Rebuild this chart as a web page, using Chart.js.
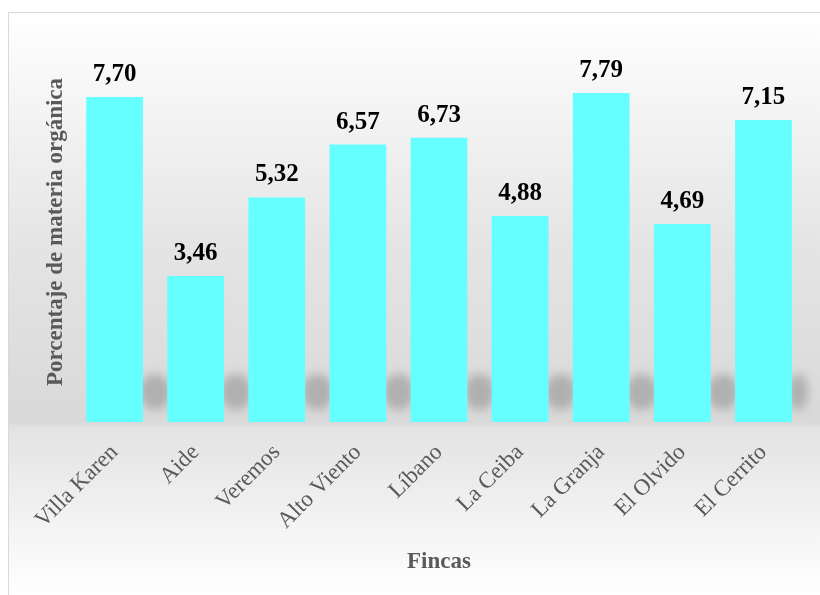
<!DOCTYPE html>
<html>
<head>
<meta charset="utf-8">
<script src="https://cdn.jsdelivr.net/npm/chart.js@4/dist/chart.umd.min.js"></script>
<style>
  html, body { margin: 0; padding: 0; background: #ffffff; }
  #chart { display: block; }
</style>
</head>
<body>
<canvas id="chart" width="820" height="595"></canvas>
<script>
const fincas = ["Villa Karen", "Aide", "Veremos", "Alto Viento", "Líbano", "La Ceiba", "La Granja", "El Olvido", "El Cerrito"];
const materiaOrganica = [7.70, 3.46, 5.32, 6.57, 6.73, 4.88, 7.79, 4.69, 7.15];
const yMin = 0;
const yMax = 9;

const serif = '"Liberation Serif", "Times New Roman", serif';
const grey = "#595959";

// panel background: framed box with a vertical grey fade
const panelBackground = {
  id: "panelBackground",
  beforeDraw(chart) {
    const { ctx, width, height, chartArea } = chart;
    const base = chartArea.bottom;
    ctx.save();
    const g = ctx.createLinearGradient(0, 12, 0, height);
    g.addColorStop(0, "#ffffff");
    g.addColorStop((250 - 12) / (height - 12), "#e4e4e4");
    g.addColorStop((base - 12) / (height - 12), "#d9d9d9");
    g.addColorStop((base + 6 - 12) / (height - 12), "#e3e3e3");
    g.addColorStop(1, "#ffffff");
    ctx.fillStyle = g;
    ctx.fillRect(8, 12, width, height);
    ctx.strokeStyle = "#d9d9d9";
    ctx.lineWidth = 1;
    ctx.strokeRect(8.5, 12.5, width + 10, height + 10);
    ctx.restore();
  }
};

// soft grey shading between the bars near the floor
const floorShade = {
  id: "floorShade",
  beforeDatasetsDraw(chart) {
    const { ctx, chartArea } = chart;
    const bars = chart.getDatasetMeta(0).data;
    const base = chartArea.bottom;
    ctx.save();
    ctx.filter = "blur(5px)";
    ctx.fillStyle = "#b0b0b0";
    for (let i = 0; i < bars.length; i++) {
      const left = bars[i].x + bars[i].width / 2;
      const right = i + 1 < bars.length ? bars[i + 1].x - bars[i + 1].width / 2 : chartArea.right;
      ctx.beginPath();
      ctx.ellipse((left + right) / 2, base - 30, (right - left) / 2 + 4, 18, 0, 0, Math.PI * 2);
      ctx.fill();
    }
    ctx.restore();
  }
};

// value above each bar, decimal comma
const barValues = {
  id: "barValues",
  afterDatasetsDraw(chart) {
    const { ctx } = chart;
    const meta = chart.getDatasetMeta(0);
    ctx.save();
    ctx.font = "bold 25px " + serif;
    ctx.fillStyle = "#000000";
    ctx.textAlign = "center";
    ctx.textBaseline = "alphabetic";
    meta.data.forEach((bar, i) => {
      const txt = materiaOrganica[i].toFixed(2).replace(".", ",");
      ctx.fillText(txt, bar.x, bar.y - 16);
    });
    ctx.restore();
  }
};

new Chart(document.getElementById("chart"), {
  type: "bar",
  data: {
    labels: fincas,
    datasets: [{
      data: materiaOrganica,
      backgroundColor: "#66ffff",
      borderWidth: 0,
      categoryPercentage: 1,
      barPercentage: 0.7
    }]
  },
  options: {
    responsive: false,
    animation: false,
    events: [],
    layout: { padding: { left: 36, right: 16, top: 42, bottom: 10 } },
    plugins: {
      legend: { display: false },
      tooltip: { enabled: false }
    },
    scales: {
      x: {
        grid: { display: false },
        border: { display: false },
        ticks: {
          color: grey,
          font: { family: serif, size: 23 },
          minRotation: 45,
          maxRotation: 45,
          padding: 9,
          autoSkip: false
        },
        title: {
          display: true,
          text: "Fincas",
          color: grey,
          font: { family: serif, size: 23, weight: "bold" },
          padding: { top: 0, bottom: 9 }
        },
        afterFit(scale) { scale.height = 163; }
      },
      y: {
        min: yMin,
        max: yMax,
        grid: { display: false },
        border: { display: false },
        ticks: { display: false },
        title: {
          display: true,
          text: "Porcentaje de materia orgánica",
          color: grey,
          font: { family: serif, size: 23, weight: "bold" },
          padding: { top: 6, bottom: 0 }
        },
        afterFit(scale) { scale.width = 38; }
      }
    }
  },
  plugins: [panelBackground, floorShade, barValues]
});
</script>
</body>
</html>
